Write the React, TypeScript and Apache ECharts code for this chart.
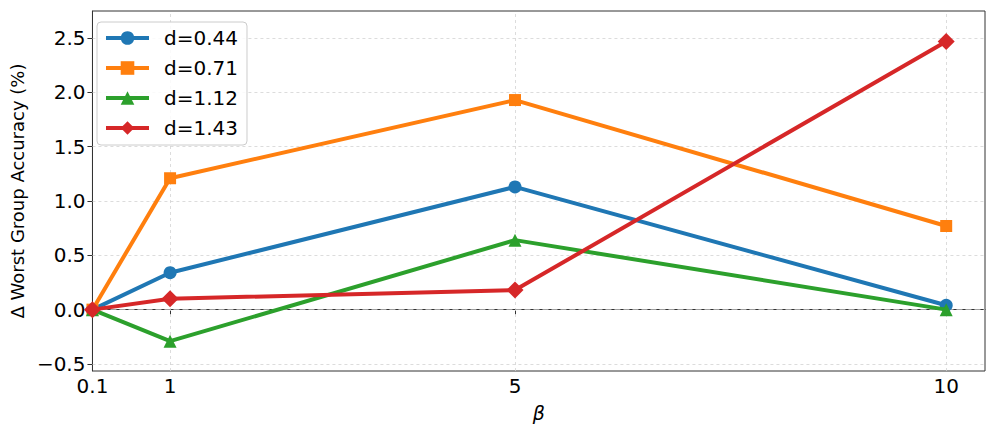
import React, { useEffect, useRef } from "react";
import * as echarts from "echarts";

const betaValues = [0.1, 1, 5, 10];
const xTickLabels = ["0.1", "1", "5", "10"];
const yTicks = [-0.5, 0, 0.5, 1.0, 1.5, 2.0, 2.5];
const seriesNames = ["d=0.44", "d=0.71", "d=1.12", "d=1.43"];
const d044 = [0, 0.34, 1.13, 0.04];
const d071 = [0, 1.21, 1.93, 0.77];
const d112 = [0, -0.29, 0.64, 0.0];
const d143 = [0, 0.1, 0.18, 2.47];
const seriesValues = [d044, d071, d112, d143];
const colors = ["#1f77b4", "#ff7f0e", "#2ca02c", "#d62728"];
const symbols = ["circle", "rect", "triangle", "diamond"];
const symbolSizes = [13, 12, 13, 17];

const FONT = "DejaVu Sans";

export default function App() {
  const ref = useRef<HTMLDivElement>(null);
  useEffect(() => {
    document.body.style.margin = "0";
    const chart = echarts.init(ref.current!, null, { renderer: "svg" });
    const gridLineStyle = { type: [3, 3], color: "#d3d3d3", width: 0.8 };
    const series: any[] = [
      {
        name: "_grid",
        type: "line",
        data: [],
        silent: true,
        z: 1,
        markLine: {
          silent: true,
          z: 1,
          symbol: "none",
          label: { show: false },
          emphasis: { disabled: true },
          lineStyle: gridLineStyle,
          data: [
            ...betaValues.slice(1).map((v) => ({ xAxis: v })),
            ...yTicks.filter((t) => t !== 0).map((t) => ({ yAxis: t })),
          ],
        },
      },
      {
        name: "_zero",
        type: "line",
        data: [],
        silent: true,
        z: 1,
        markLine: {
          silent: true,
          z: 1,
          symbol: "none",
          label: { show: false },
          emphasis: { disabled: true },
          lineStyle: { type: [6, 3], color: "#a0a0a0", width: 1 },
          data: [{ yAxis: 0 }],
        },
      },
      ...seriesNames.map((name, i) => ({
        name,
        type: "line",
        data: betaValues.map((x, j) => [x, seriesValues[i][j]]),
        symbol: symbols[i],
        symbolSize: symbolSizes[i],
        lineStyle: { width: 4, color: colors[i] },
        itemStyle: { color: colors[i], borderWidth: 0 },
        emphasis: { disabled: true },
        z: 3 + i,
      })),
    ];
    chart.setOption({
      animation: false,
      textStyle: { fontFamily: FONT, fontSize: 20 },
      grid: {
        left: 88,
        right: 12,
        top: 11,
        bottom: 59,
        show: true,
        borderColor: "#333",
        borderWidth: 1,
        containLabel: false,
      },
      legend: {
        data: seriesNames,
        orient: "vertical",
        left: 97,
        top: 22,
        itemWidth: 43,
        itemHeight: 17,
        itemGap: 10,
        padding: [6, 9, 7, 7],
        backgroundColor: "rgba(255,255,255,0.85)",
        borderColor: "#cccccc",
        borderWidth: 1,
        borderRadius: 4,
        lineStyle: { width: 4 },
        textStyle: {
          fontFamily: FONT,
          fontSize: 20,
          color: "#000",
          lineHeight: 20,
          padding: [0, 0, 0, 10],
        },
      },
      xAxis: {
        type: "value",
        min: 0.1,
        max: 10.45,
        name: "β",
        nameLocation: "middle",
        nameGap: 32,
        nameTextStyle: { fontFamily: FONT, fontSize: 19, fontStyle: "italic", color: "#000" },
        axisLine: { show: true, lineStyle: { color: "#333" } },
        axisTick: { show: true, customValues: betaValues, length: 5, lineStyle: { color: "#333" } },
        axisLabel: {
          show: true,
          customValues: betaValues,
          formatter: (v: number) => {
            const idx = betaValues.findIndex((b) => Math.abs(b - v) < 1e-6);
            return idx >= 0 ? xTickLabels[idx] : "";
          },
          fontFamily: FONT,
          fontSize: 20,
          color: "#000",
          margin: 5,
        },
        splitLine: { show: false },
      },
      yAxis: {
        type: "value",
        min: -0.565,
        max: 2.75,
        name: "Δ Worst Group Accuracy (%)",
        nameLocation: "middle",
        nameGap: 58,
        nameTextStyle: { fontFamily: FONT, fontSize: 18, color: "#000" },
        axisLine: { show: true, lineStyle: { color: "#333" } },
        axisTick: { show: true, customValues: yTicks, length: 5, lineStyle: { color: "#333" } },
        axisLabel: {
          show: true,
          customValues: yTicks,
          formatter: (v: number) => (v < 0 ? "\u2212" + Math.abs(v).toFixed(1) : v.toFixed(1)),
          fontFamily: FONT,
          fontSize: 20,
          color: "#000",
          margin: 7,
        },
        splitLine: { show: false },
      },
      series,
    });
    return () => chart.dispose();
  }, []);
  return <div ref={ref} style={{ width: 997, height: 430, position: "absolute", left: 0, top: 0 }} />;
}
